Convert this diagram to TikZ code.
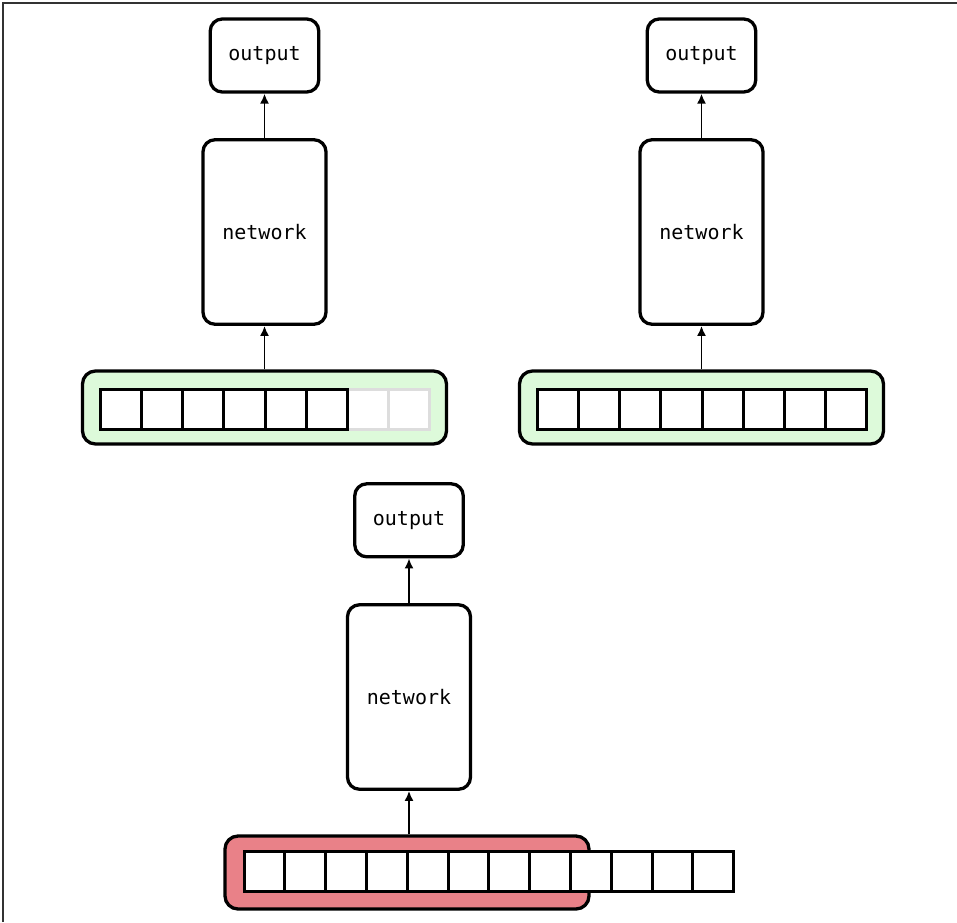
\documentclass[tikz,border=0pt]{standalone}
\usepackage{fontspec}
\setmonofont{DejaVu Sans Mono}
\usetikzlibrary{arrows.meta}
\definecolor{okgreen}{HTML}{DDFADA}
\definecolor{badred}{HTML}{E98188}
\definecolor{cellgray}{HTML}{DDDDDD}
\definecolor{framegray}{HTML}{333333}
\tikzset{
  box/.style={draw=black, line width=3.3pt, rounded corners=12pt, fill=white,
    font=\ttfamily\fontsize{20}{24}\selectfont, inner sep=0pt},
  outbox/.style={box, minimum width=108.5pt, minimum height=73pt},
  netbox/.style={box, minimum width=123pt, minimum height=184.5pt},
  holder/.style={draw=black, line width=3.3pt, rounded corners=13pt, inner sep=0pt,
    minimum width=364pt, minimum height=73pt},
  cell/.style={draw=black, line width=3pt, fill=white, inner sep=0pt,
    minimum height=40pt, minimum width=#1},
  ghost/.style={draw=cellgray, line width=3pt, fill=white, inner sep=0pt,
    minimum height=40pt, minimum width=#1},
  link/.style={-{Latex[length=10pt,width=9pt]}, line width=1.7pt, black},
}
\begin{document}
\begin{tikzpicture}[x=1pt,y=-1pt]
\useasboundingbox (0,0) rectangle (957,922);
\draw[framegray, line width=2pt] (3,922) -- (3,3) -- (957,3);

% ---------- top-left panel ----------
\node[outbox] (o1) at (264.5,55.5) {output};
\node[netbox] (n1) at (264.5,232) {network};
\node[holder, fill=okgreen] (h1) at (264.5,407.5) {};
\foreach \i in {7,8}{
  \pgfmathsetmacro{\cx}{100.5+41.125*(\i-0.5)}
  \node[ghost=41.125pt] (a\i) at (\cx,409.5) {};
}
\foreach \i in {1,...,6}{
  \pgfmathsetmacro{\cx}{100.5+41.125*(\i-0.5)}
  \node[cell=41.125pt] (a\i) at (\cx,409.5) {};
}
\draw[link] (n1.north) -- (o1.south);
\draw[link] (h1.north) -- (n1.south);

% ---------- top-right panel ----------
\node[outbox] (o2) at (701.5,55.5) {output};
\node[netbox] (n2) at (701.5,232) {network};
\node[holder, fill=okgreen] (h2) at (701.5,407.5) {};
\foreach \i in {1,...,8}{
  \pgfmathsetmacro{\cx}{537.5+41.125*(\i-0.5)}
  \node[cell=41.125pt] (b\i) at (\cx,409.5) {};
}
\draw[link] (n2.north) -- (o2.south);
\draw[link] (h2.north) -- (n2.south);

% ---------- bottom panel ----------
\node[outbox] (o3) at (409,520.3) {output};
\node[netbox] (n3) at (409,697) {network};
\node[holder, fill=badred] (h3) at (407,872.5) {};
\foreach \i in {1,...,12}{
  \pgfmathsetmacro{\cx}{244+40.8*(\i-0.5)}
  \node[cell=40.8pt] (c\i) at (\cx,871.5) {};
}
\draw[link] (n3.north) -- (o3.south);
\draw[link] (n3.south |- h3.north) -- (n3.south);
\end{tikzpicture}
\end{document}
